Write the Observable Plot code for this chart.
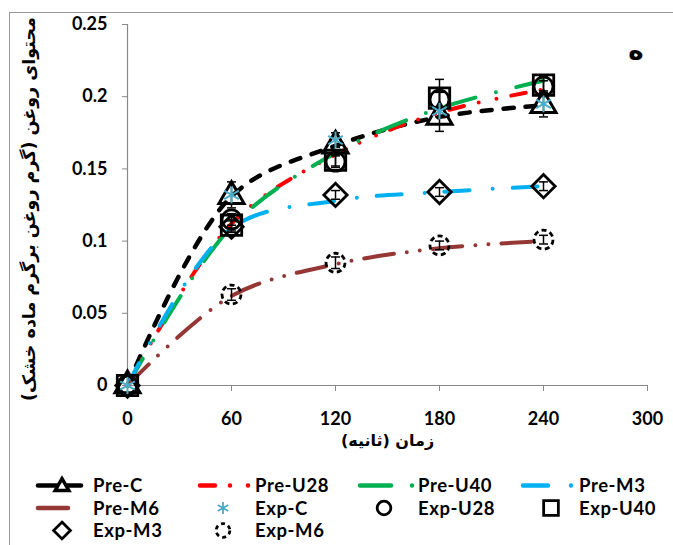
<!DOCTYPE html>
<html><head><meta charset="utf-8">
<script src="https://cdn.jsdelivr.net/npm/d3@7"></script>
<script src="https://cdn.jsdelivr.net/npm/@observablehq/plot@0.6"></script>
<style>
body{margin:0;background:#fff;}
#wrap{position:relative;width:673px;height:545px;overflow:hidden;font-family:Lato,"DejaVu Sans",sans-serif;}
#frame{position:absolute;left:9px;top:12px;width:700px;height:600px;border-left:1.5px solid #999;border-top:1.5px solid #999;pointer-events:none;}
#wrap svg{display:block;}
g[aria-label$="axis tick"]{stroke:#888;}
</style></head><body><div id="wrap"><div id="frame"></div></div>
<script>
// ---- data ----
const times = [0, 60, 120, 180, 240];
const xTicks = [0, 60, 120, 180, 240, 300];
const yTicks = [0, 0.05, 0.1, 0.15, 0.2, 0.25];
const yTickLabels = ["0", "0.05", "0.1", "0.15", "0.2", "0.25"];
const xTitle = "زمان (ثانیه)";
const yTitle = "محتوای روغن (گرم روغن برگرم ماده خشک)";
const panelLabel = "ه";

const preNames = ["Pre-C", "Pre-U28", "Pre-U40", "Pre-M3", "Pre-M6"];
const preC   = [0, 0.131, 0.166, 0.186, 0.194];
const preU28 = [0, 0.112, 0.160, 0.189, 0.205];
const preU40 = [0, 0.110, 0.161, 0.192, 0.211];
const preM3  = [0, 0.109, 0.128, 0.134, 0.138];
const preM6  = [0, 0.062, 0.084, 0.095, 0.100];

const expNames = ["Exp-C", "Exp-U28", "Exp-U40", "Exp-M3", "Exp-M6"];
const expC   = [0, 0.132, 0.170, 0.190, 0.195];
const expU28 = [0, 0.115, 0.155, 0.198, 0.207];
const expU40 = [0, 0.111, 0.156, 0.199, 0.208];
const expM3  = [0, 0.110, 0.132, 0.134, 0.138];
const expM6  = [0, 0.063, 0.085, 0.097, 0.101];

const errC   = [0, 0.009, 0.005, 0.014, 0.009];
const errU28 = [0, 0.004, 0.004, 0.005, 0.004];
const errU40 = [0, 0.004, 0.004, 0.013, 0.006];
const errM3  = [0, 0.004, 0.003, 0.003, 0.003];
const errM6  = [0, 0.004, 0.004, 0.003, 0.003];

// ---- styles ----
const preValues = [preC, preU28, preU40, preM3, preM6];
const preStyle = {
  "Pre-C":   {stroke: "#000000", dash: "10,12", w: 4.5},
  "Pre-U28": {stroke: "#ff0000", dash: "15,15,0,18,0,15", w: 4},
  "Pre-U40": {stroke: "#00b050", dash: "31,21,0,21", w: 4},
  "Pre-M3":  {stroke: "#00b0f0", dash: "25,23,0,20", w: 4},
  "Pre-M6":  {stroke: "#953735", dash: "30,13,0,13,0,13", w: 4}
};
const expValues = [expC, expU28, expU40, expM3, expM6];
const expErrs = [errC, errU28, errU40, errM3, errM6];

const preRows = preNames.flatMap((s, i) => times.map((t, j) => ({series: s, t, v: preValues[i][j]})));
const expRows = expNames.flatMap((s, i) => times.map((t, j) => ({series: s, t, v: expValues[i][j], e: expErrs[i][j]})));

const capSymbol = {draw(ctx, size) { const r = Math.sqrt(size / Math.PI); ctx.moveTo(-r, 0); ctx.lineTo(r, 0); }};

const marks = [
  Plot.ruleX([0], {stroke: "#888", strokeWidth: 1.2}),
  Plot.ruleY([0], {stroke: "#888", strokeWidth: 1.2})
];
for (const s of preNames) {
  const st = preStyle[s];
  marks.push(Plot.line(preRows.filter(d => d.series === s), {
    x: "t", y: "v", curve: "catmull-rom", stroke: st.stroke, strokeWidth: st.w,
    strokeDasharray: st.dash, strokeLinecap: "round"
  }));
}
// Pre-C triangle markers
marks.push(Plot.dot(preRows.filter(d => d.series === "Pre-C"), {x: "t", y: "v", symbol: "triangle2", r: 12, stroke: "#000", strokeWidth: 3, fill: "none"}));
// error bars
const errRows = expRows.filter(d => d.e > 0);
marks.push(Plot.ruleX(errRows, {x: "t", y1: d => d.v - d.e, y2: d => d.v + d.e, stroke: "#000", strokeWidth: 1.5}));
marks.push(Plot.dot(errRows, {x: "t", y: d => d.v - d.e, symbol: capSymbol, r: 4.5, stroke: "#000", strokeWidth: 1.5}));
marks.push(Plot.dot(errRows, {x: "t", y: d => d.v + d.e, symbol: capSymbol, r: 4.5, stroke: "#000", strokeWidth: 1.5}));
// experimental markers
const expMarker = {
  "Exp-C":   {symbol: "asterisk", r: 8, stroke: "#4bacc6", strokeWidth: 2},
  "Exp-U28": {symbol: "circle", r: 9.5, stroke: "#000", strokeWidth: 2.8},
  "Exp-U40": {symbol: "square2", r: 13, stroke: "#000", strokeWidth: 2.8},
  "Exp-M3":  {symbol: "diamond2", r: 10.5, stroke: "#000", strokeWidth: 2.8},
  "Exp-M6":  {symbol: "circle", r: 9.5, stroke: "#000", strokeWidth: 2.8, strokeDasharray: "5,3.5"}
};
for (const s of ["Exp-U28", "Exp-U40", "Exp-M3", "Exp-M6", "Exp-C"]) {
  const m = expMarker[s];
  marks.push(Plot.dot(expRows.filter(d => d.series === s), {x: "t", y: "v", fill: "none", ...m}));
}
// texts
marks.push(Plot.text([yTitle], {text: d => d, frameAnchor: "left", textAnchor: "middle", rotate: -90, dx: -98, dy: 4, fontSize: 17.5, fontFamily: "DejaVu Sans", fontWeight: "bold"}));
marks.push(Plot.text([xTitle], {text: d => d, frameAnchor: "bottom", dy: 60, fontSize: 16, fontFamily: "DejaVu Sans", fontWeight: "bold"}));
marks.push(Plot.text([panelLabel], {text: d => d, frameAnchor: "top-right", dx: -4, dy: 16, fontSize: 26, fontFamily: "DejaVu Sans", fontWeight: "bold"}));

const chart = Plot.plot({
  width: 673, height: 470,
  marginLeft: 127, marginRight: 26, marginTop: 24, marginBottom: 85,
  x: {domain: [0, 300], ticks: xTicks, tickSize: 6, tickPadding: 21, label: null},
  y: {domain: [0, 0.25], ticks: yTicks, tickSize: 5, tickPadding: 15, label: null, tickFormat: (d) => yTickLabels[yTicks.indexOf(d)]},
  style: {fontFamily: "Lato, sans-serif", fontSize: "18px", fontWeight: "bold", color: "#000", background: "transparent", overflow: "visible"},
  marks
});
document.getElementById("wrap").appendChild(chart);

// ---- legend ----
const legendItems = [
  {name: "Pre-C",   col: 0, row: 0, kind: "line"},
  {name: "Pre-U28", col: 1, row: 0, kind: "line"},
  {name: "Pre-U40", col: 2, row: 0, kind: "line"},
  {name: "Pre-M3",  col: 3, row: 0, kind: "line"},
  {name: "Pre-M6",  col: 0, row: 1, kind: "line"},
  {name: "Exp-C",   col: 1, row: 1, kind: "marker"},
  {name: "Exp-U28", col: 2, row: 1, kind: "marker"},
  {name: "Exp-U40", col: 3, row: 1, kind: "marker"},
  {name: "Exp-M3",  col: 0, row: 2, kind: "marker"},
  {name: "Exp-M6",  col: 1, row: 2, kind: "marker"}
];
const colText = [93, 255, 418, 579];
const colLine = [[36, 83], [198, 252], [358, 416], [521, 576]];
const colMark = [62, 223, 384, 551];
const rowY = [15.5, 38, 60.5];
const leg = d3.create("svg").attr("width", 673).attr("height", 75).style("overflow", "visible");
const symbolPaths = {
  "asterisk": d3.symbolAsterisk, "circle": d3.symbolCircle, "square2": d3.symbolSquare2,
  "diamond2": d3.symbolDiamond2, "triangle2": d3.symbolTriangle2
};
for (const it of legendItems) {
  const y = rowY[it.row];
  if (it.kind === "line") {
    const st = preStyle[it.name];
    let [x1, x2] = colLine[it.col];
    if (it.name === "Pre-M6") x2 = 70;
    leg.append("line").attr("x1", x1 + 2).attr("x2", x2 - 2).attr("y1", y).attr("y2", y)
      .attr("stroke", st.stroke).attr("stroke-width", 4.5)
      .attr("stroke-dasharray", it.name === "Pre-C" ? null : st.dash).attr("stroke-linecap", "round");
    if (it.name === "Pre-C") {
      leg.append("path").attr("d", d3.symbol(d3.symbolTriangle2, Math.PI * 6.5 * 6.5)())
        .attr("transform", `translate(${colMark[0]},${y + 1})`).attr("fill", "#fff").attr("stroke", "#000").attr("stroke-width", 3.5);
    }
  } else {
    const m = expMarker[it.name];
    const rr = m.r * 0.72;
    leg.append("path").attr("d", d3.symbol(symbolPaths[m.symbol], Math.PI * rr * rr)())
      .attr("transform", `translate(${colMark[it.col]},${y})`).attr("fill", "none")
      .attr("stroke", m.stroke).attr("stroke-width", m.symbol === "asterisk" ? 1.8 : 2.8)
      .attr("stroke-dasharray", it.name === "Exp-M6" ? "4,3.5" : null);
  }
  leg.append("text").attr("x", colText[it.col]).attr("y", y).attr("dy", "0.36em")
    .attr("font-family", "Lato, sans-serif").attr("font-weight", "bold").attr("font-size", 18.5)
    .attr("letter-spacing", "0.6px")
    .text(it.name);
}
document.getElementById("wrap").appendChild(leg.node());
</script></body></html>
